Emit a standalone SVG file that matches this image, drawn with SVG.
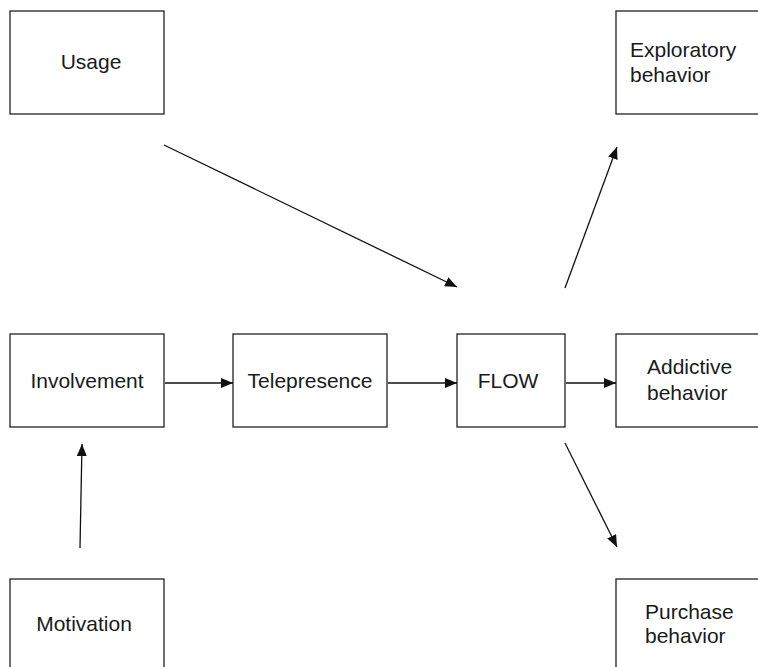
<svg xmlns="http://www.w3.org/2000/svg" width="758" height="667" viewBox="0 0 758 667">
<style>
.box{fill:#fff;stroke:#222;stroke-width:1.3}
.t{font-family:"Liberation Sans",Arial,sans-serif;font-size:21px;fill:#1a1a1a}
.c{text-anchor:middle}
.e{stroke:#111;stroke-width:1.3;fill:none;marker-end:url(#ah)}
</style>
<defs>
<marker id="ah" viewBox="0 0 12 10" refX="12" refY="5" markerWidth="12" markerHeight="10" markerUnits="userSpaceOnUse" orient="auto">
<path d="M0,0 L12,5 L0,10 Z" fill="#111"/>
</marker>
</defs>
<rect width="758" height="667" fill="#fff"/>
<g id="usage"><rect class="box" x="10" y="11" width="154" height="103"/><text class="t c" x="91" y="69">Usage</text></g>
<g id="exploratory"><rect class="box" x="616" y="11" width="160" height="103"/><text class="t" x="630" y="57">Exploratory</text><text class="t" x="630" y="82">behavior</text></g>
<g id="involvement"><rect class="box" x="10" y="334" width="154" height="93"/><text class="t c" x="87" y="388">Involvement</text></g>
<g id="telepresence"><rect class="box" x="233" y="334" width="154" height="93"/><text class="t c" x="310" y="388">Telepresence</text></g>
<g id="flow"><rect class="box" x="457" y="334" width="108" height="93"/><text class="t c" x="508" y="388">FLOW</text></g>
<g id="addictive"><rect class="box" x="616" y="334" width="160" height="93"/><text class="t" x="647" y="374">Addictive</text><text class="t" x="647" y="400">behavior</text></g>
<g id="motivation"><rect class="box" x="10" y="579" width="154" height="110"/><text class="t c" x="84" y="631">Motivation</text></g>
<g id="purchase"><rect class="box" x="616" y="579" width="160" height="110"/><text class="t" x="645" y="619">Purchase</text><text class="t" x="645" y="643">behavior</text></g>
<g id="connectors">
<line class="e" x1="164" y1="145" x2="457" y2="287"/>
<line class="e" x1="565" y1="288" x2="617" y2="147"/>
<line class="e" x1="165" y1="383" x2="233" y2="383"/>
<line class="e" x1="388" y1="383" x2="457" y2="383"/>
<line class="e" x1="566" y1="383" x2="616" y2="383"/>
<line class="e" x1="565" y1="443" x2="617" y2="547"/>
<line class="e" x1="80" y1="548" x2="82" y2="444"/>
</g>
</svg>
